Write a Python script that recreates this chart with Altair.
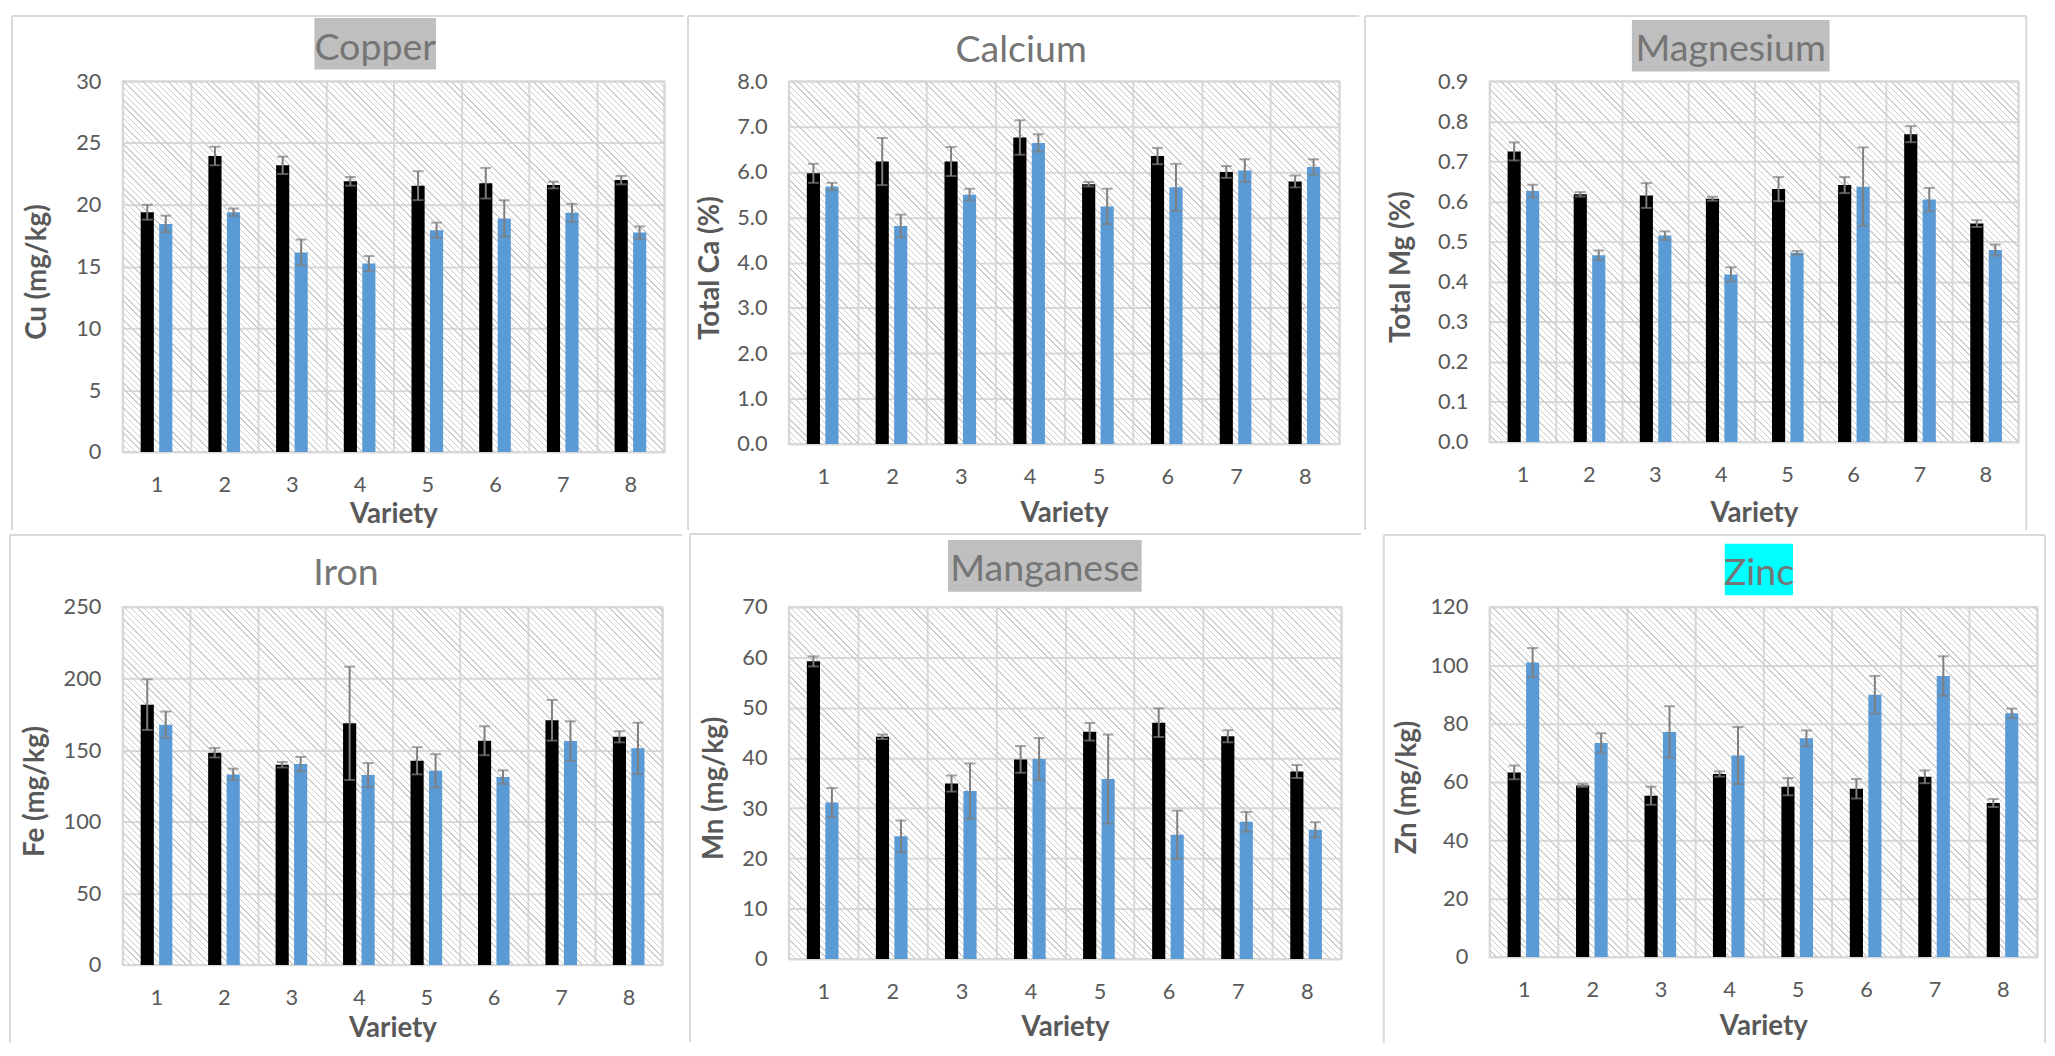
import math
import altair as alt
import pandas as pd

# ---------------- data ----------------
VARIETIES = [1, 2, 3, 4, 5, 6, 7, 8]
SERIES = ["Series 1", "Series 2"]

cu_ticks = [0, 5, 10, 15, 20, 25, 30]
cu_s1 = [19.4, 23.95, 23.2, 21.9, 21.55, 21.75, 21.6, 22.0]
cu_e1 = [0.6, 0.75, 0.7, 0.35, 1.17, 1.24, 0.27, 0.34]
cu_s2 = [18.45, 19.4, 16.15, 15.25, 17.95, 18.9, 19.35, 17.75]
cu_e2 = [0.67, 0.3, 1.04, 0.6, 0.61, 1.47, 0.73, 0.5]

ca_ticks = [0.0, 1.0, 2.0, 3.0, 4.0, 5.0, 6.0, 7.0, 8.0]
ca_s1 = [5.97, 6.23, 6.23, 6.76, 5.73, 6.35, 6.0, 5.79]
ca_e1 = [0.21, 0.52, 0.32, 0.38, 0.05, 0.18, 0.13, 0.13]
ca_s2 = [5.68, 4.81, 5.5, 6.64, 5.24, 5.66, 6.03, 6.11]
ca_e2 = [0.08, 0.25, 0.13, 0.19, 0.39, 0.52, 0.25, 0.17]

mg_ticks = [0.0, 0.1, 0.2, 0.3, 0.4, 0.5, 0.6, 0.7, 0.8, 0.9]
mg_s1 = [0.725, 0.618, 0.615, 0.607, 0.631, 0.641, 0.768, 0.545]
mg_e1 = [0.0225, 0.0055, 0.031, 0.005, 0.030, 0.020, 0.020, 0.0085]
mg_s2 = [0.626, 0.466, 0.515, 0.418, 0.472, 0.637, 0.605, 0.479]
mg_e2 = [0.016, 0.012, 0.0105, 0.018, 0.0045, 0.098, 0.029, 0.0137]

fe_ticks = [0, 50, 100, 150, 200, 250]
fe_s1 = [181.8, 148.2, 139.8, 168.8, 142.6, 156.6, 170.9, 159.4]
fe_e1 = [17.7, 3.3, 1.9, 39.6, 9.5, 10.1, 14.2, 3.9]
fe_s2 = [167.8, 133.1, 140.3, 132.6, 135.6, 131.2, 156.4, 151.3]
fe_e2 = [9.2, 4.0, 5.0, 8.4, 11.6, 4.7, 13.8, 17.9]

mn_ticks = [0, 10, 20, 30, 40, 50, 60, 70]
mn_s1 = [59.2, 44.2, 34.9, 39.7, 45.2, 47.0, 44.3, 37.3]
mn_e1 = [1.0, 0.45, 1.6, 2.65, 1.75, 2.85, 1.2, 1.3]
mn_s2 = [31.1, 24.4, 33.4, 39.8, 35.8, 24.7, 27.3, 25.7]
mn_e2 = [2.9, 3.15, 5.5, 4.15, 8.85, 4.8, 1.95, 1.5]

zn_ticks = [0, 20, 40, 60, 80, 100, 120]
zn_s1 = [63.3, 58.85, 55.3, 62.75, 58.4, 57.7, 61.8, 52.8]
zn_e1 = [2.35, 0.5, 3.1, 0.9, 2.95, 3.35, 2.2, 1.4]
zn_s2 = [101.0, 73.4, 77.2, 69.1, 75.0, 89.9, 96.4, 83.6]
zn_e2 = [4.95, 3.3, 8.8, 9.8, 2.7, 6.5, 6.75, 1.6]

PANELS = [
    dict(title="Copper", ytitle="Cu (mg/kg)", s1=cu_s1, e1=cu_e1, s2=cu_s2, e2=cu_e2, ticks=cu_ticks, fmt="d"),
    dict(title="Calcium", ytitle="Total Ca (%)", s1=ca_s1, e1=ca_e1, s2=ca_s2, e2=ca_e2, ticks=ca_ticks, fmt=".1f"),
    dict(title="Magnesium", ytitle="Total Mg (%)", s1=mg_s1, e1=mg_e1, s2=mg_s2, e2=mg_e2, ticks=mg_ticks, fmt=".1f"),
    dict(title="Iron", ytitle="Fe (mg/kg)", s1=fe_s1, e1=fe_e1, s2=fe_s2, e2=fe_e2, ticks=fe_ticks, fmt="d"),
    dict(title="Manganese", ytitle="Mn (mg/kg)", s1=mn_s1, e1=mn_e1, s2=mn_s2, e2=mn_e2, ticks=mn_ticks, fmt="d"),
    dict(title="Zinc", ytitle="Zn (mg/kg)", s1=zn_s1, e1=zn_e1, s2=zn_s2, e2=zn_e2, ticks=zn_ticks, fmt="d"),
]

# ---------------- layout / style (pixels) ----------------
LAYOUT = {
    "Copper":    dict(L=113, T=67, W=548, H=375, PW=682, PH=522, ytx=-86, xty=71, tx=255.5, tby=-22, box=(194, 317, -64, -12), boxfill="#bfbfbf", right=False),
    "Calcium":   dict(L=103, T=67, W=557, H=367, PW=681, PH=522, ytx=-79, xty=78, tx=235, tby=-20, box=None, boxfill=None, right=False),
    "Magnesium": dict(L=127, T=67, W=535, H=365, PW=671, PH=522, ytx=-89, xty=80, tx=244, tby=-21, box=(144, 344, -62, -10), boxfill="#bfbfbf", right=True),
    "Iron":      dict(L=115, T=74, W=546, H=362, PW=682, PH=516, ytx=-88, xty=72, tx=226, tby=-22, box=None, boxfill=None, right=False),
    "Manganese": dict(L=101, T=75, W=559, H=356, PW=681, PH=516, ytx=-75, xty=77, tx=259, tby=-26, box=(161, 357, -68, -15.5), boxfill="#bfbfbf", right=False),
    "Zinc":      dict(L=108, T=74, W=554, H=354, PW=671, PH=516, ytx=-83, xty=78, tx=272.5, tby=-22, box=(238, 307, -64, -12), boxfill="#00ffff", right=True),
}

GRID = "#d9d9d9"
ERR = "#7f7f7f"
TXT = "#595959"
FONT = "Lato"


def hatch_fill(W, H, period=4.5, line=1.0, color="#cfcfcf"):
    r = H / W
    k = (1 + r) / (1 + r * r)
    D = (W + H) / math.sqrt(2)
    clear = "rgba(255,255,255,0)"
    stops = []
    i = 0
    while True:
        a = i * period / D
        if a >= 1:
            break
        b = min((i * period + line) / D, 1.0)
        stops += [(a, clear), (a, color), (b, color), (b, clear)]
        i += 1
    return alt.LinearGradient(
        gradient="linear", x1=0, y1=1, x2=k, y2=1 - k * r,
        stops=[alt.GradientStop(offset=round(o, 6), color=c) for o, c in stops],
    )


one = pd.DataFrame({"k": [0]})


def make_panel(p):
    lay = LAYOUT[p["title"]]
    W, H, L, T, PW, PH = lay["W"], lay["H"], lay["L"], lay["T"], lay["PW"], lay["PH"]
    rows = []
    for i, v in enumerate(VARIETIES):
        for s, vals, errs in ((SERIES[0], p["s1"], p["e1"]), (SERIES[1], p["s2"], p["e2"])):
            rows.append(dict(variety=v, series=s, value=vals[i], lo=vals[i] - errs[i], hi=vals[i] + errs[i]))
    df = pd.DataFrame(rows)

    X = alt.X(
        "variety:O",
        scale=alt.Scale(type="band", paddingInner=0, paddingOuter=0),
        axis=alt.Axis(
            title="Variety", tickBand="extent", grid=True, ticks=False, domain=False,
            labelAngle=0, labelPadding=23, titleX=W / 2, titleY=lay["xty"],
            titleBaseline="alphabetic", titleAlign="center",
        ),
    )
    XO = alt.XOffset("series:N", sort=SERIES, scale=alt.Scale(paddingInner=0.289, paddingOuter=0.976))
    ymax = p["ticks"][-1]

    def Y(field):
        return alt.Y(
            f"{field}:Q",
            scale=alt.Scale(domain=[0, ymax], nice=False, zero=True),
            axis=alt.Axis(
                values=p["ticks"], format=p["fmt"], title=p["ytitle"], grid=True, ticks=False,
                domain=False, labelPadding=22, titleAngle=270, titleX=lay["ytx"], titleY=H / 2 + 5,
                titleBaseline="middle", titleAlign="center",
            ),
        )

    base = alt.Chart(df).encode(x=X, xOffset=XO)

    bg = alt.Chart(one).mark_rect(fill=hatch_fill(W, H), strokeWidth=0).encode(
        x=alt.value(0), x2=alt.value(W), y=alt.value(0), y2=alt.value(H)
    )
    bars = base.mark_bar().encode(
        y=Y("value"),
        color=alt.Color("series:N", scale=alt.Scale(domain=SERIES, range=["#000000", "#5b9bd5"]), legend=None),
    )
    stems = base.mark_rule(color=ERR, strokeWidth=2).encode(y=Y("lo"), y2="hi:Q")
    cap_lo = base.mark_tick(color=ERR, thickness=2, size=11).encode(y=Y("lo"))
    cap_hi = base.mark_tick(color=ERR, thickness=2, size=11).encode(y=Y("hi"))

    layers = [bg, bars, stems, cap_lo, cap_hi]

    if lay["box"] is not None:
        x1, x2, y1, y2 = lay["box"]
        layers.append(
            alt.Chart(one).mark_rect(fill=lay["boxfill"], strokeWidth=0).encode(
                x=alt.value(x1), x2=alt.value(x2), y=alt.value(y1), y2=alt.value(y2)
            )
        )
    layers.append(
        alt.Chart(one).mark_text(
            text=p["title"], font=FONT, fontSize=38, color="#757575", align="center", baseline="alphabetic"
        ).encode(x=alt.value(lay["tx"]), y=alt.value(lay["tby"]))
    )

    # panel frame lines (kept 1px inside the panel extent)
    left, top = -L + 1, -T + 1
    layers.append(
        alt.Chart(one).mark_rule(color=GRID, strokeWidth=2).encode(
            x=alt.value(left), y=alt.value(-T + 1), y2=alt.value(PH - T - 1)
        )
    )
    layers.append(
        alt.Chart(one).mark_rule(color=GRID, strokeWidth=2).encode(
            x=alt.value(-L + 1), x2=alt.value(PW - L - 1), y=alt.value(top)
        )
    )
    if lay["right"]:
        layers.append(
            alt.Chart(one).mark_rule(color=GRID, strokeWidth=2).encode(
                x=alt.value(PW - L - 1), y=alt.value(-T + 1), y2=alt.value(PH - T - 1)
            )
        )
    # invisible rect fixing the panel's full extent
    layers.append(
        alt.Chart(one).mark_rect(fillOpacity=0, strokeOpacity=0, strokeWidth=0).encode(
            x=alt.value(-L), x2=alt.value(PW - L), y=alt.value(-T), y2=alt.value(PH - T)
        )
    )
    return alt.layer(*layers).properties(width=W, height=H)


chart = (
    alt.concat(*[make_panel(p) for p in PANELS], columns=3, spacing=0)
    .properties(padding=0)
    .configure(font=FONT)
    .configure_view(stroke=GRID, strokeWidth=2, fill="white")
    .configure_axis(
        gridColor=GRID, gridWidth=2, labelColor=TXT, labelFont=FONT, labelFontSize=22,
        titleColor=TXT, titleFont=FONT, titleFontSize=28, titleFontWeight="bold",
    )
)

chart.save("out.html", embed_options={"renderer": "svg", "actions": False})
